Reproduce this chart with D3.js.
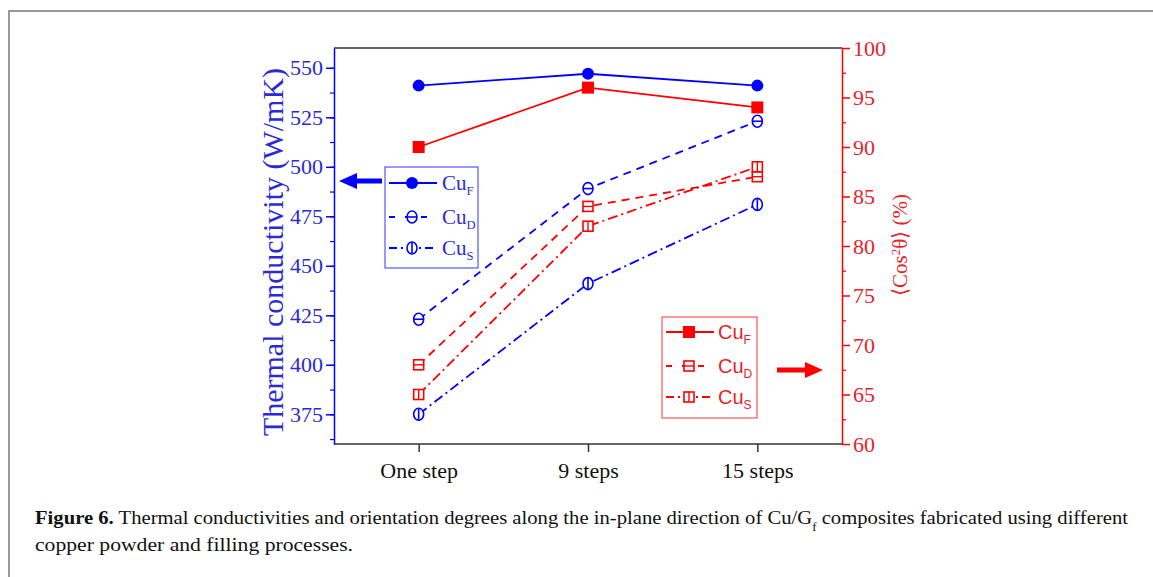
<!DOCTYPE html>
<html>
<head>
<meta charset="utf-8">
<script src="https://cdn.jsdelivr.net/npm/d3@7"></script>
<style>
    body { margin: 0; background: #fff; }
    svg { display: block; }
</style>
</head>
<body>
<script>
const width = 1153;
const height = 577;
const color = {
    blue: "#0000ff",
    blueText: "#2b2bd6",
    red: "#ff0000",
    redText: "#e8232a",
    frame: "#333",
    border: "#999"
};
const serif = "'Liberation Serif', 'Times New Roman', serif";
const sans = "'Liberation Sans', Arial, sans-serif";

// data
const steps = ["One step", "9 steps", "15 steps"];
const tcF = [541, 547, 541];
const tcD = [423, 489, 523];
const tcS = [375, 441, 481];
const orF = [90, 96, 94];
const orD = [68, 84, 87];
const orS = [65, 82, 88];
const leftTicks = [375, 400, 425, 450, 475, 500, 525, 550];
const rightTicks = [60, 65, 70, 75, 80, 85, 90, 95, 100];
const seriesNames = ["F", "D", "S"];

const plot = {left: 334, right: 842, top: 48, bottom: 444};

let svg = d3.select("body").append("svg")
    .attr("width", width)
    .attr("height", height);

// outer figure border
svg.append("path")
    .attr("d", "M9," + height + "V11H" + width)
    .attr("fill", "none")
    .attr("stroke", color.border)
    .attr("stroke-width", 2);

let x = d3.scalePoint().domain(steps).range([plot.left, plot.right]).padding(0.5);
let yL = d3.scaleLinear().domain([360, 560]).range([plot.bottom, plot.top]);
let yR = d3.scaleLinear().domain([60, 100]).range([plot.bottom, plot.top]);

// frame top
svg.append("line")
    .attr("x1", plot.left).attr("x2", plot.right)
    .attr("y1", plot.top).attr("y2", plot.top)
    .attr("stroke", color.frame).attr("stroke-width", 1.5);

// bottom axis
let xAxis = svg.append("g")
    .attr("transform", "translate(0," + plot.bottom + ")")
    .call(d3.axisBottom(x).tickSize(8).tickPadding(10));
xAxis.select(".domain").attr("stroke", color.frame).attr("stroke-width", 1.5)
    .attr("d", "M" + plot.left + ",0H" + plot.right);
xAxis.selectAll(".tick line").attr("stroke", color.frame).attr("stroke-width", 1.5);
xAxis.selectAll(".tick text")
    .attr("fill", "#111")
    .style("font-family", serif)
    .style("font-size", "22px");

// left axis
let minorL = d3.range(362.5, 560, 12.5);
svg.append("g")
    .attr("transform", "translate(" + plot.left + ",0)")
    .call(d3.axisLeft(yL).tickValues(minorL).tickSize(4).tickFormat(""))
    .call(g => g.select(".domain").remove())
    .selectAll("line").attr("stroke", color.blue).attr("stroke-width", 1.2);
let leftAxis = svg.append("g")
    .attr("transform", "translate(" + plot.left + ",0)")
    .call(d3.axisLeft(yL).tickValues(leftTicks).tickSize(8).tickPadding(3).tickSizeOuter(0));
leftAxis.select(".domain").attr("stroke", color.blue).attr("stroke-width", 1.5);
leftAxis.selectAll(".tick line").attr("stroke", color.blue).attr("stroke-width", 1.5);
leftAxis.selectAll(".tick text")
    .attr("fill", color.blueText)
    .style("font-family", serif)
    .style("font-size", "22px");

// right axis
let minorR = d3.range(62.5, 100, 2.5).filter(v => v % 5 !== 0);
svg.append("g")
    .attr("transform", "translate(" + plot.right + ",0)")
    .call(d3.axisRight(yR).tickValues(minorR).tickSize(4).tickFormat(""))
    .call(g => g.select(".domain").remove())
    .selectAll("line").attr("stroke", color.red).attr("stroke-width", 1.2);
let rightAxis = svg.append("g")
    .attr("transform", "translate(" + plot.right + ",0)")
    .call(d3.axisRight(yR).tickValues(rightTicks).tickSize(8).tickPadding(3).tickSizeOuter(0));
rightAxis.select(".domain").attr("stroke", color.red).attr("stroke-width", 1.5);
rightAxis.selectAll(".tick line").attr("stroke", color.red).attr("stroke-width", 1.5);
rightAxis.selectAll(".tick text")
    .attr("fill", color.redText)
    .style("font-family", serif)
    .style("font-size", "22px");

// axis titles
svg.append("text")
    .attr("transform", "translate(283,252)rotate(-90)")
    .attr("text-anchor", "middle")
    .attr("fill", color.blueText)
    .style("font-family", serif)
    .style("font-size", "30px")
    .text("Thermal conductivity (W/mK)");

let rTitle = svg.append("text")
    .attr("transform", "translate(907,245)rotate(-90)")
    .attr("text-anchor", "middle")
    .attr("fill", color.redText)
    .style("font-family", serif)
    .style("font-size", "21px");
rTitle.append("tspan").text("\u27E8Cos");
rTitle.append("tspan").attr("baseline-shift", "super").style("font-size", "13px").text("2");
rTitle.append("tspan").text("\u03B8\u27E9 (%)");

// markers
const dash = {F: null, D: "8,6", S: "10,4,2,4"};

function drawMarker(g, kind, series, cx, cy) {
    if (kind === "circle") {
        if (series === "F") {
            g.append("circle").attr("cx", cx).attr("cy", cy).attr("r", 6)
                .attr("fill", color.blue);
        } else {
            g.append("ellipse").attr("cx", cx).attr("cy", cy).attr("rx", 5).attr("ry", 6)
                .attr("fill", "#fff").attr("stroke", color.blue).attr("stroke-width", 1.6);
            if (series === "D") {
                g.append("line").attr("x1", cx - 5).attr("x2", cx + 5).attr("y1", cy).attr("y2", cy)
                    .attr("stroke", color.blue).attr("stroke-width", 1.6);
            } else {
                g.append("line").attr("x1", cx).attr("x2", cx).attr("y1", cy - 6).attr("y2", cy + 6)
                    .attr("stroke", color.blue).attr("stroke-width", 1.6);
            }
        }
    } else {
        if (series === "F") {
            g.append("rect").attr("x", cx - 6).attr("y", cy - 6).attr("width", 12).attr("height", 12)
                .attr("fill", color.red);
        } else {
            g.append("rect").attr("x", cx - 5).attr("y", cy - 5).attr("width", 10).attr("height", 10)
                .attr("fill", "#fff").attr("stroke", color.red).attr("stroke-width", 1.6);
            if (series === "D") {
                g.append("line").attr("x1", cx - 5).attr("x2", cx + 5).attr("y1", cy).attr("y2", cy)
                    .attr("stroke", color.red).attr("stroke-width", 1.4);
            } else {
                g.append("line").attr("x1", cx).attr("x2", cx).attr("y1", cy - 5).attr("y2", cy + 5)
                    .attr("stroke", color.red).attr("stroke-width", 1.4);
            }
        }
    }
}

const blueSeries = [tcF, tcD, tcS];
const redSeries = [orF, orD, orS];

let lineG = svg.append("g");
let markG = svg.append("g");

function drawSeries(values, scale, stroke, kind, name) {
    let line = d3.line().x((d, i) => x(steps[i])).y(d => scale(d));
    lineG.append("path")
        .attr("d", line(values))
        .attr("fill", "none")
        .attr("stroke", stroke)
        .attr("stroke-width", 1.8)
        .attr("stroke-dasharray", dash[name]);
    values.forEach((v, i) => drawMarker(markG, kind, name, x(steps[i]), scale(v)));
}

redSeries.forEach((s, i) => drawSeries(s, yR, color.red, "square", seriesNames[i]));
blueSeries.forEach((s, i) => drawSeries(s, yL, color.blue, "circle", seriesNames[i]));

// legends
function legend(box, rows, stroke, textColor, kind, font, size) {
    let g = svg.append("g");
    g.append("rect")
        .attr("x", box.x).attr("y", box.y).attr("width", box.w).attr("height", box.h)
        .attr("fill", "#fff").attr("stroke", stroke).attr("stroke-width", 1).attr("opacity", 0.8);
    seriesNames.forEach((n, i) => {
        let cy = rows[i];
        g.append("line")
            .attr("x1", box.x + 4).attr("x2", box.x + 52)
            .attr("y1", cy).attr("y2", cy)
            .attr("stroke", stroke).attr("stroke-width", 1.8)
            .attr("stroke-dasharray", n === "F" ? null : (n === "D" ? "6,10" : "8,4,2,4"));
        drawMarker(g, kind, n, box.x + 27, cy);
        let t = g.append("text")
            .attr("x", box.x + box.textX).attr("y", cy + 7)
            .attr("fill", textColor)
            .style("font-family", font)
            .style("font-size", size + "px");
        t.append("tspan").text("Cu");
        t.append("tspan").attr("dy", 5).style("font-size", (size * 0.6) + "px").text(n);
    });
}

legend({x: 385, y: 167, w: 93, h: 101, textX: 57}, [183, 217, 248], color.blue, color.blueText, "circle", serif, 21);
legend({x: 662, y: 317, w: 95, h: 101, textX: 56}, [332, 366, 397], color.red, color.redText, "square", sans, 20);

// arrows
svg.append("path")
    .attr("d", "M382,178.5H357V173L339,181L357,189V183.5H382Z")
    .attr("fill", color.blue);
svg.append("path")
    .attr("d", "M777,367.5H805V362L823,370L805,378V372.5H777Z")
    .attr("fill", color.red);

// caption
let cap1 = svg.append("text")
    .attr("x", 35).attr("y", 524)
    .attr("fill", "#111")
    .style("font-family", serif)
    .style("font-size", "19px");
cap1.append("tspan").style("font-weight", "bold").text("Figure 6.");
cap1.append("tspan").text(" Thermal conductivities and orientation degrees along the in-plane direction of Cu/G");
cap1.append("tspan").attr("baseline-shift", "sub").style("font-size", "12px").text("f");
cap1.append("tspan").text(" composites fabricated using different");
cap1.attr("textLength", 1093).attr("lengthAdjust", "spacingAndGlyphs");

svg.append("text")
    .attr("x", 35).attr("y", 551)
    .attr("fill", "#111")
    .style("font-family", serif)
    .style("font-size", "19px")
    .attr("textLength", 318).attr("lengthAdjust", "spacingAndGlyphs")
    .text("copper powder and filling processes.");
</script>
</body>
</html>
